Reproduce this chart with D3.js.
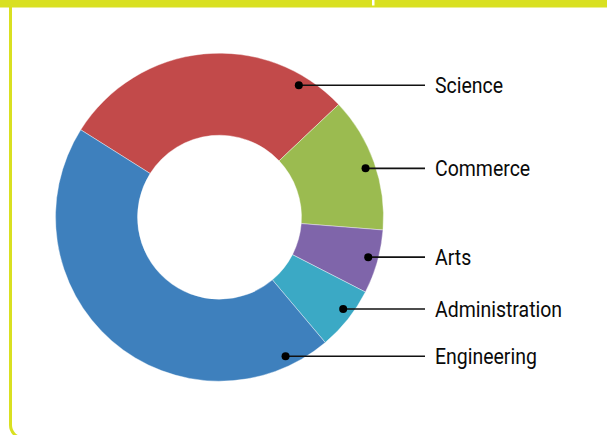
<!DOCTYPE html>
<html>
<head>
<meta charset="utf-8">
<script src="https://cdn.jsdelivr.net/npm/d3@7"></script>
<style>
  html, body { margin: 0; padding: 0; background: #fff; }
  svg { display: block; }
  .lbl { font-family: "Roboto", "Liberation Sans", sans-serif; font-size: 22px; fill: #0a0a0a; }
</style>
</head>
<body>
<svg id="chart" width="607" height="435"></svg>
<script>
// data (share of total, %)
const categories = ['Science', 'Commerce', 'Arts', 'Administration', 'Engineering']
const values = [29.0, 13.3, 6.3, 6.3, 45.1]
const colors = ['#c24a4a', '#9bbb50', '#7f65aa', '#3ba9c5', '#3e80bd']

const svg = d3.select('#chart')
const W = 607, H = 435
const cx = 219.5, cy = 217.2
const outerR = 164, innerR = 82
const deg = Math.PI / 180

// frame
svg.append('rect')
  .attr('x', 10.5).attr('y', -20)
  .attr('width', 604).attr('height', 458)
  .attr('rx', 13)
  .attr('fill', 'none')
  .attr('stroke', '#d9e021')
  .attr('stroke-width', 3)
svg.append('rect')
  .attr('x', 0).attr('y', 0)
  .attr('width', W).attr('height', 7.5)
  .attr('fill', '#d9e021')
svg.append('rect')
  .attr('x', 372).attr('y', 0)
  .attr('width', 2.5).attr('height', 5.5)
  .attr('fill', '#fff')

let pie = d3.pie()
  .sort(null)
  .value(d => d)
  .startAngle(-57.8 * deg)
  .endAngle(302.2 * deg)

let arc = d3.arc()
  .innerRadius(innerR)
  .outerRadius(outerR)

let arcs = pie(values)

let g = svg.append('g').attr('transform', `translate(${cx},${cy})`)

g.selectAll('path')
  .data(arcs)
  .enter()
  .append('path')
  .attr('d', arc)
  .attr('fill', (d, i) => colors[i])
  .attr('stroke', '#fff')
  .attr('stroke-width', 0.4)

// leader points: mid angle squeezed a bit toward 3 o'clock,
// and pulled to the right side for the big slices
const minA = 31 * deg, maxA = 154.6 * deg
function inSlice(a, d) {
  return (a >= d.startAngle && a <= d.endAngle) || (a + 2 * Math.PI >= d.startAngle && a + 2 * Math.PI <= d.endAngle)
}
function leaderAngle(d) {
  let mid = (d.startAngle + d.endAngle) / 2
  let m = (mid + 2 * Math.PI) % (2 * Math.PI)
  if (m >= minA && m <= maxA) return 90 * deg + (m - 90 * deg) * 0.95
  if (inSlice(minA, d)) return minA
  return maxA
}

const dotR = 154
const lineEnd = 425
const textX = 435

arcs.forEach((d, i) => {
  let a = leaderAngle(d)
  let x = cx + dotR * Math.sin(a)
  let y = cy - dotR * Math.cos(a)
  svg.append('line')
    .attr('x1', x).attr('y1', y)
    .attr('x2', lineEnd).attr('y2', y)
    .attr('stroke', '#111')
    .attr('stroke-width', 1.6)
  svg.append('circle')
    .attr('cx', x).attr('cy', y)
    .attr('r', 4)
    .attr('fill', '#000')
  svg.append('text')
    .attr('class', 'lbl')
    .attr('transform', `translate(${textX},${y + 8}) scale(0.885,1)`)
    .text(categories[i])
})
</script>
</body>
</html>
